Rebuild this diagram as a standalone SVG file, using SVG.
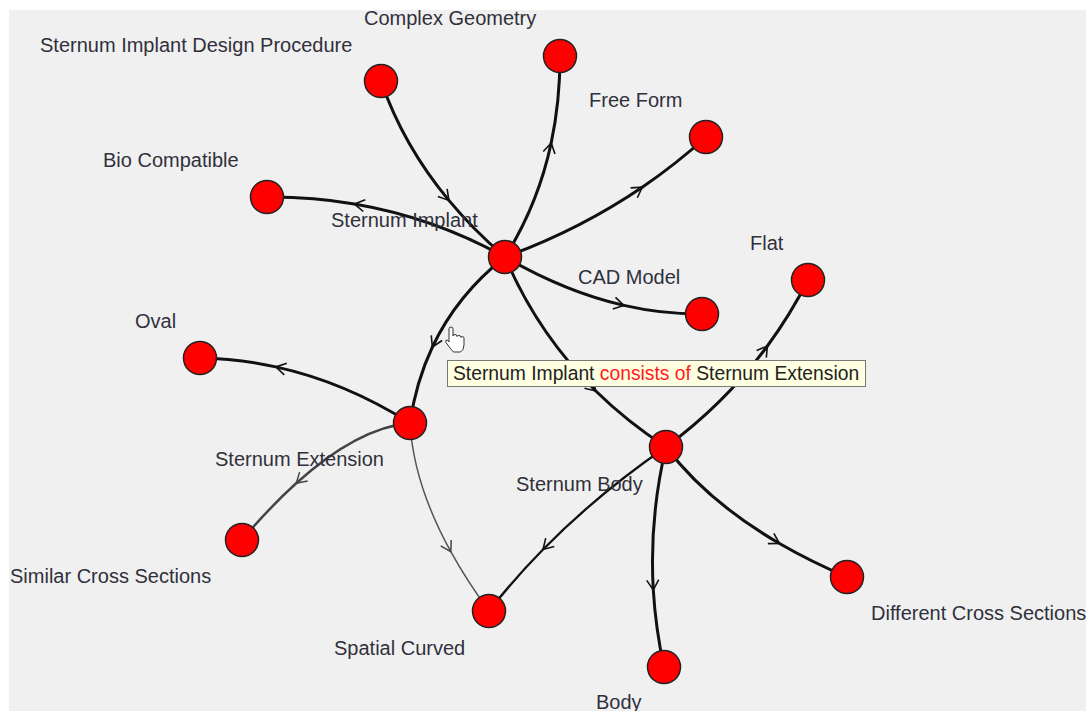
<svg xmlns="http://www.w3.org/2000/svg" width="1090" height="711" viewBox="0 0 1090 711">
  <defs>
    <style>
      .lbl { font-family: "Liberation Sans", Arial, sans-serif; font-size: 20px; fill: #30303c; }
      .node { fill: #ff0000; stroke: #222; stroke-width: 1.5; }
      .e { fill: none; stroke: #111; stroke-width: 3; marker-mid: url(#arr); }
      .e-mid { stroke-width: 2.3; }
      .e-gray { stroke: #444; stroke-width: 2.5; marker-mid: url(#arrGray); }
      .e-thin { stroke: #555; stroke-width: 1.5; marker-mid: url(#arrGray); }
      .tip { font-family: "Liberation Sans", Arial, sans-serif; font-size: 19.3px; fill: #222; }
    </style>
    <!-- open chevron placed partway along each edge -->
    <marker id="arr" viewBox="-12 -8 14 16" markerWidth="14" markerHeight="16" refX="0" refY="0" orient="auto" markerUnits="userSpaceOnUse">
      <path d="M-10 -6 L0 0 L-10 6" fill="none" stroke="#111" stroke-width="1.6"/>
    </marker>
    <marker id="arrGray" viewBox="-12 -8 14 16" markerWidth="14" markerHeight="16" refX="0" refY="0" orient="auto" markerUnits="userSpaceOnUse">
      <path d="M-10 -6 L0 0 L-10 6" fill="none" stroke="#444" stroke-width="1.5"/>
    </marker>
  </defs>

  <rect x="0" y="0" width="1090" height="711" fill="#ffffff"/>
  <rect x="9" y="10" width="1077" height="701" fill="#f0f0f0"/>

  <g id="connectors">
    <path class="e" d="M381 81 Q403.1 145.35 448.9 200.4 Q473.5 230.05 505 257"/>
    <path class="e" d="M505 257 Q538 204.8 551.2 142.9 Q560 101.6 560 56"/>
    <path class="e" d="M505 257 Q579.75 229.7 642.25 187.2 Q675.9 164.3 706 137"/>
    <path class="e" d="M505 257 Q433.5 217.35 354.4 203.9 Q311.8 196.65 267 197"/>
    <path class="e" d="M505 257 Q565 291.8 623.9 305.4 Q663.2 314.4 702 314"/>
    <path class="e" d="M505 257 Q457 294.8 432.4 347 Q416 381.8 410 423"/>
    <path class="e" d="M505 257 Q537.5 333.7 595.8 391 Q627.15 421.8 666 447"/>
    <path class="e" d="M666 447 Q725.15 403.45 767.4 346 Q790.15 315 808 280"/>
    <path class="e" d="M666 447 Q707.3 501.6 779.5 543.5 Q810.4 561.4 847 577"/>
    <path class="e" d="M666 447 Q649.1 518.5 653.3 590 Q655.6 628.5 664 667"/>
    <path class="e e-mid" d="M666 447 Q597.1 494.45 543 549.5 Q513.85 579.15 489 611"/>
    <path class="e" d="M410 423 Q345 382.05 275.8 366.9 Q238.5 358.7 200 358"/>
    <path class="e e-gray" d="M410 423 Q357.5 427.9 296.2 483.3 Q269.9 507 242 540"/>
    <path class="e e-thin" d="M410 423 Q413.5 483.9 450.8 551.7 Q466.8 580.7 489 611"/>
  </g>

  <g id="n-design-procedure">
    <circle class="node" cx="381" cy="81" r="16.5"/>
    <text class="lbl" x="40" y="52">Sternum Implant Design Procedure</text>
  </g>
  <g id="n-complex-geometry">
    <circle class="node" cx="560" cy="56" r="16.5"/>
    <text class="lbl" x="364" y="25">Complex Geometry</text>
  </g>
  <g id="n-free-form">
    <circle class="node" cx="706" cy="137" r="16.5"/>
    <text class="lbl" x="589" y="107">Free Form</text>
  </g>
  <g id="n-bio-compatible">
    <circle class="node" cx="267" cy="197" r="16.5"/>
    <text class="lbl" x="103" y="167">Bio Compatible</text>
  </g>
  <g id="n-sternum-implant">
    <circle class="node" cx="505" cy="257" r="16.5"/>
    <text class="lbl" x="331" y="227">Sternum Implant</text>
  </g>
  <g id="n-cad-model">
    <circle class="node" cx="702" cy="314" r="16.5"/>
    <text class="lbl" x="578" y="284">CAD Model</text>
  </g>
  <g id="n-flat">
    <circle class="node" cx="808" cy="280" r="16.5"/>
    <text class="lbl" x="750" y="250">Flat</text>
  </g>
  <g id="n-oval">
    <circle class="node" cx="200" cy="358" r="16.5"/>
    <text class="lbl" x="135" y="328">Oval</text>
  </g>
  <g id="n-sternum-extension">
    <circle class="node" cx="410" cy="423" r="16.5"/>
    <text class="lbl" x="215" y="466">Sternum Extension</text>
  </g>
  <g id="n-sternum-body">
    <circle class="node" cx="666" cy="447" r="16.5"/>
    <text class="lbl" x="516" y="491">Sternum Body</text>
  </g>
  <g id="n-similar-cross-sections">
    <circle class="node" cx="242" cy="540" r="16.5"/>
    <text class="lbl" x="10" y="583">Similar Cross Sections</text>
  </g>
  <g id="n-spatial-curved">
    <circle class="node" cx="489" cy="611" r="16.5"/>
    <text class="lbl" x="334" y="655">Spatial Curved</text>
  </g>
  <g id="n-different-cross-sections">
    <circle class="node" cx="847" cy="577" r="16.5"/>
    <text class="lbl" x="871" y="620">Different Cross Sections</text>
  </g>
  <g id="n-body">
    <circle class="node" cx="664" cy="667" r="16.5"/>
    <text class="lbl" x="596" y="709">Body</text>
  </g>

  <!-- hover pointer -->
  <g id="pointer" transform="translate(449 327)">
    <path d="M0 2 Q0 0 2 0 Q4 0 4 2 L4 9 Q4 7.5 6 7.5 Q8 7.5 8 9.5 Q8 8.5 10 8.5 Q12 8.5 12 10.5 Q12 9.5 13.5 9.5 Q15 9.5 15 11.5 L15 18 Q15 23 11.5 25 L4.5 25 Q2.5 23 -0.5 19 L-3 15.5 Q-4 13 -2 13 Q-1 13 0 15 Z" fill="#ffffff" stroke="#333" stroke-width="1"/>
  </g>

  <!-- hover tooltip -->
  <g id="tooltip">
    <rect x="447.5" y="360.5" width="418" height="26" fill="#ffffe1" stroke="#777" stroke-width="1"/>
    <text class="tip" x="453" y="380">Sternum Implant <tspan fill="#ff1a1a">consists of</tspan> Sternum Extension</text>
  </g>
</svg>
